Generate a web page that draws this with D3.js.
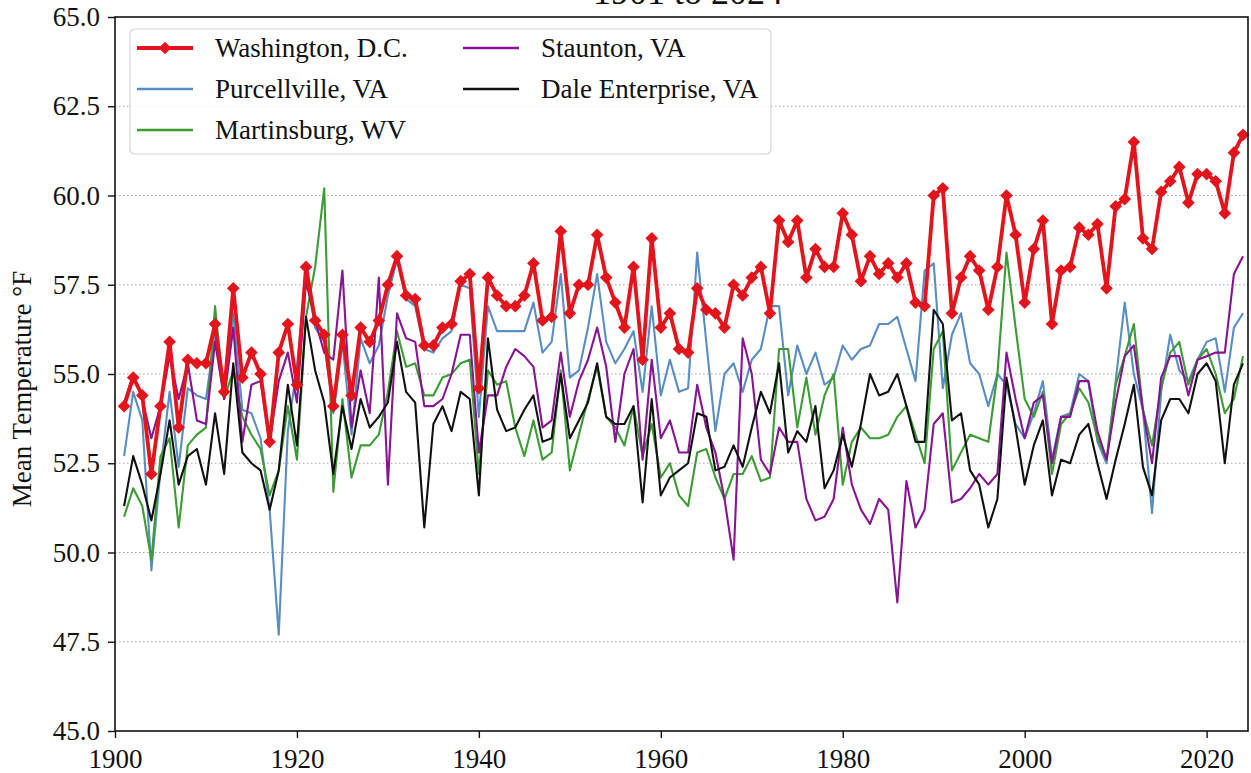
<!DOCTYPE html>
<html>
<head>
<meta charset="utf-8">
<script src="https://cdn.jsdelivr.net/npm/d3@7"></script>
<style>
  body { margin: 0; background: #fff; }
  svg text { font-family: "Liberation Serif", "DejaVu Serif", serif; fill: #111; }
</style>
</head>
<body>
<div id="chart"></div>
<script>
'use strict';

// annual mean temperature (°F), 1901 to 2024
const years = d3.range(1901, 2025);

const washington = [
  54.1, 54.9, 54.4, 52.2, 54.1, 55.9, 53.5, 55.4, 55.3, 55.3,
  56.4, 54.5, 57.4, 54.9, 55.6, 55.0, 53.1, 55.6, 56.4, 54.7,
  58.0, 56.5, 56.1, 54.1, 56.1, 54.4, 56.3, 55.9, 56.5, 57.5,
  58.3, 57.2, 57.1, 55.8, 55.8, 56.3, 56.4, 57.6, 57.8, 54.6,
  57.7, 57.2, 56.9, 56.9, 57.2, 58.1, 56.5, 56.6, 59.0, 56.7,
  57.5, 57.5, 58.9, 57.7, 57.0, 56.3, 58.0, 55.4, 58.8, 56.3,
  56.7, 55.7, 55.6, 57.4, 56.8, 56.7, 56.3, 57.5, 57.2, 57.7,
  58.0, 56.7, 59.3, 58.7, 59.3, 57.7, 58.5, 58.0, 58.0, 59.5,
  58.9, 57.6, 58.3, 57.8, 58.1, 57.7, 58.1, 57.0, 56.9, 60.0,
  60.2, 56.7, 57.7, 58.3, 57.9, 56.8, 58.0, 60.0, 58.9, 57.0,
  58.5, 59.3, 56.4, 57.9, 58.0, 59.1, 58.9, 59.2, 57.4, 59.7,
  59.9, 61.5, 58.8, 58.5, 60.1, 60.4, 60.8, 59.8, 60.6, 60.6,
  60.4, 59.5, 61.2, 61.7
];

const purcellville = [
  52.7, 54.5, 53.7, 49.5, 52.3, 54.5, 52.4, 54.6, 54.4, 54.3,
  56.1, 54.3, 56.7, 54.0, 53.9, 53.2, 51.2, 47.7, 53.4, 55.2,
  57.8, 56.3, 55.9, 53.9, 55.9, 53.3, 56.0, 55.3, 55.8, 57.2,
  58.2, 57.1, 56.9, 55.7, 55.6, 56.0, 56.2, 57.5, 57.4, 53.8,
  56.9, 56.2, 56.2, 56.2, 56.2, 57.0, 55.6, 55.9, 57.8, 54.9,
  55.1, 56.3, 57.8, 55.9, 55.3, 55.7, 56.2, 54.5, 56.9, 54.4,
  55.4, 54.5, 54.6, 58.4, 55.9, 53.4, 55.0, 55.3, 54.5, 55.4,
  55.7, 56.9, 56.9, 54.4, 55.8, 55.0, 55.6, 54.7, 54.9, 55.8,
  55.4, 55.7, 55.8, 56.4, 56.4, 56.6, 55.7, 54.8, 57.9, 58.1,
  54.6, 56.1, 56.7, 55.3, 55.0, 54.1, 55.0, 54.7, 53.6, 53.2,
  53.9, 54.8, 52.6, 53.8, 53.9, 55.0, 54.8, 53.1, 52.5, 54.8,
  57.0, 55.0, 54.0, 51.1, 54.5, 56.1, 55.1, 54.8, 55.4, 55.9,
  56.0, 54.5, 56.3, 56.7
];

const martinsburg = [
  51.0, 51.8, 51.3, 49.8, 52.7, 53.2, 50.7, 53.0, 53.3, 53.5,
  56.9, 54.3, 55.1, 53.8, 53.3, 52.9, 51.6, 52.3, 54.1, 52.6,
  56.6, 58.0, 60.2, 51.7, 54.3, 52.1, 53.0, 53.0, 53.3, 54.5,
  56.2, 55.2, 55.3, 54.4, 54.4, 54.9, 55.0, 55.3, 55.4, 52.2,
  55.1, 54.7, 54.8, 53.5, 52.7, 53.7, 52.6, 52.8, 55.1, 52.3,
  53.3, 54.3, 55.2, 53.8, 53.5, 53.0, 54.1, 52.7, 53.6, 52.1,
  52.5, 51.6, 51.3, 52.8, 52.9, 52.1, 51.5, 52.2, 52.2, 52.7,
  52.0, 52.1, 55.7, 55.7, 53.5, 54.9, 53.3, 54.4, 55.0, 51.9,
  53.1, 53.5, 53.2, 53.2, 53.3, 53.8, 54.1, 53.3, 52.5, 55.7,
  56.2, 52.3, 52.8, 53.3, 53.2, 53.1, 55.0, 58.4, 56.3, 54.3,
  53.8, 54.5, 52.2, 53.6, 53.9, 54.6, 54.2, 53.2, 52.6, 54.7,
  55.5, 56.4, 54.0, 53.0, 54.6, 55.6, 55.9, 54.7, 55.4, 55.7,
  55.0, 53.9, 54.3, 55.5
];

const staunton = [
  54.2, 55.0, 54.3, 53.2, 54.1, 55.5, 54.3, 55.3, 53.7, 53.6,
  55.9, 54.3, 56.3, 53.1, 54.7, 54.8, 53.1, 54.8, 55.6, 54.2,
  57.6, 56.5, 55.6, 55.4, 57.9, 53.5, 55.1, 53.9, 57.7, 51.9,
  56.7, 56.0, 55.9, 54.1, 54.1, 54.3, 55.0, 56.1, 56.1, 52.8,
  54.4, 54.4, 55.2, 55.7, 55.5, 55.2, 53.5, 53.7, 55.6, 53.8,
  54.8, 55.4, 56.3, 55.2, 53.1, 55.0, 55.7, 52.6, 55.4, 53.2,
  53.7, 52.8, 52.8, 54.7, 53.5, 52.8, 51.5, 49.8, 56.0, 55.0,
  52.6, 52.2, 53.5, 53.1, 53.1, 51.5, 50.9, 51.0, 51.5, 53.5,
  51.9, 51.2, 50.8, 51.5, 51.2, 48.6, 52.0, 50.7, 51.2, 53.6,
  53.9, 51.4, 51.5, 51.8, 52.2, 51.9, 52.2, 55.6, 54.3, 53.2,
  54.2, 54.4, 52.5, 53.8, 53.8, 54.8, 54.8, 53.4, 52.6, 54.2,
  55.5, 55.8, 54.0, 52.5, 54.9, 55.5, 55.5, 54.4, 55.4, 55.5,
  55.6, 55.6, 57.8, 58.3
];

const daleEnterprise = [
  51.3, 52.7, 51.9, 50.9, 52.2, 53.7, 51.9, 52.7, 52.9, 51.9,
  53.9, 52.2, 55.3, 52.8, 52.5, 52.3, 51.2, 52.3, 54.7, 53.0,
  56.6, 55.1, 54.2, 52.2, 54.1, 52.9, 54.3, 53.5, 53.8, 54.2,
  55.9, 54.5, 54.2, 50.7, 53.6, 54.1, 53.4, 54.5, 54.3, 51.6,
  56.0, 54.0, 53.4, 53.5, 54.0, 54.4, 53.1, 53.2, 55.0, 53.2,
  53.7, 54.2, 55.3, 53.8, 53.6, 53.6, 54.1, 51.4, 54.3, 51.6,
  52.1, 52.3, 52.5, 53.9, 53.8, 52.3, 52.4, 53.0, 52.4, 53.5,
  54.5, 53.9, 55.3, 52.8, 53.4, 53.1, 54.1, 51.8, 52.3, 53.3,
  52.4, 53.6, 55.0, 54.4, 54.5, 55.0, 54.1, 53.1, 53.1, 56.8,
  56.4, 53.7, 53.9, 52.3, 51.9, 50.7, 51.5, 54.9, 53.5, 51.9,
  53.0, 53.7, 51.6, 52.6, 52.5, 53.3, 53.6, 52.5, 51.5, 52.6,
  53.6, 54.7, 52.4, 51.6, 53.7, 54.3, 54.3, 53.9, 55.0, 55.3,
  54.8, 52.5, 54.7, 55.3
];

const seriesNames = ['Washington, D.C.', 'Purcellville, VA', 'Martinsburg, WV', 'Staunton, VA', 'Dale Enterprise, VA'];
const seriesColors = ['#e3141b', '#5a8dc2', '#3c9b33', '#871490', '#111111'];

const xTicks = [1900, 1920, 1940, 1960, 1980, 2000, 2020];
const yTicks = [45.0, 47.5, 50.0, 52.5, 55.0, 57.5, 60.0, 62.5, 65.0];

const titleText = '1901 to 2024';
const yLabel = 'Mean Temperature °F';

function drawChart(elementID) {
  const width = 1251;
  const height = 773;
  const left = 115;
  const right = 1248;
  const top = 17;
  const bottom = 731;
  const fontSize = 27;

  const scaleX = d3.scaleLinear()
    .domain([1900, 2024.55])
    .range([left, right]);

  const scaleY = d3.scaleLinear()
    .domain([45, 65])
    .range([bottom, top]);

  document.getElementById(elementID).innerHTML = '';
  const svg = d3.select('#' + elementID)
    .append('svg')
    .attr('width', width)
    .attr('height', height);

  svg.append('rect')
    .attr('width', width)
    .attr('height', height)
    .attr('fill', '#fff');

  // grid horizontal punteado
  svg.append('g')
    .selectAll('line')
    .data(yTicks.filter(d => d > 45 && d < 65))
    .enter()
    .append('line')
    .attr('x1', left)
    .attr('x2', right)
    .attr('y1', d => scaleY(d))
    .attr('y2', d => scaleY(d))
    .attr('stroke', '#a8a8a8')
    .attr('stroke-width', 1)
    .attr('stroke-dasharray', '1.5,2.5');

  // series
  const data = [washington, purcellville, martinsburg, staunton, daleEnterprise].map((values, i) => ({
    name: seriesNames[i],
    color: seriesColors[i],
    points: values.map((v, j) => ({ year: years[j], value: v }))
  }));

  const line = d3.line()
    .x(d => scaleX(d.year))
    .y(d => scaleY(d.value));

  const plot = svg.append('g');

  // primero las estaciones, washington encima
  const order = [1, 2, 3, 4, 0];
  order.forEach(i => {
    const s = data[i];
    plot.append('path')
      .datum(s.points)
      .attr('fill', 'none')
      .attr('stroke', s.color)
      .attr('stroke-width', i === 0 ? 3.8 : 2.1)
      .attr('stroke-linejoin', 'round')
      .attr('d', line);
  });

  const diamond = d3.symbol().type(d3.symbolSquare).size(80);

  plot.selectAll('.marker')
    .data(data[0].points)
    .enter()
    .append('path')
    .attr('class', 'marker')
    .attr('transform', d => `translate(${scaleX(d.year)}, ${scaleY(d.value)}) rotate(45)`)
    .attr('d', diamond)
    .attr('fill', seriesColors[0]);

  // eje X
  const xAxis = d3.axisBottom(scaleX)
    .tickValues(xTicks)
    .tickFormat(d3.format('d'))
    .tickSize(7)
    .tickSizeOuter(0)
    .tickPadding(11);

  const gx = svg.append('g')
    .attr('transform', `translate(0, ${bottom})`)
    .call(xAxis);
  gx.select('.domain').remove();
  gx.selectAll('line').attr('stroke', '#111').attr('stroke-width', 1.4);
  gx.selectAll('text').attr('font-size', fontSize);

  // eje Y
  const yAxis = d3.axisLeft(scaleY)
    .tickValues(yTicks)
    .tickFormat(d3.format('.1f'))
    .tickSize(7)
    .tickSizeOuter(0)
    .tickPadding(8);

  const gy = svg.append('g')
    .attr('transform', `translate(${left}, 0)`)
    .call(yAxis);
  gy.select('.domain').remove();
  gy.selectAll('line').attr('stroke', '#111').attr('stroke-width', 1.4);
  gy.selectAll('text').attr('font-size', fontSize);

  // marco
  svg.append('rect')
    .attr('x', left)
    .attr('y', top)
    .attr('width', right - left)
    .attr('height', bottom - top)
    .attr('fill', 'none')
    .attr('stroke', '#111')
    .attr('stroke-width', 1.6);

  // titulo (cortado arriba, como en el original)
  svg.append('text')
    .attr('x', 688)
    .attr('y', 4)
    .attr('text-anchor', 'middle')
    .attr('font-size', 36)
    .text(titleText);

  svg.append('text')
    .attr('transform', 'translate(31, 389) rotate(-90)')
    .attr('text-anchor', 'middle')
    .attr('font-size', fontSize)
    .text(yLabel);

  // leyenda
  const legend = svg.append('g');
  legend.append('rect')
    .attr('x', 130)
    .attr('y', 29)
    .attr('width', 641)
    .attr('height', 125)
    .attr('rx', 5)
    .attr('fill', '#fff')
    .attr('fill-opacity', 0.85)
    .attr('stroke', '#d4d4d4')
    .attr('stroke-width', 1.2);

  const colX = [137, 463];
  const rowY = [48, 89, 130];

  data.forEach((s, i) => {
    const x0 = colX[i < 3 ? 0 : 1];
    const y0 = rowY[i < 3 ? i : i - 3];
    const item = legend.append('g');
    item.append('line')
      .attr('x1', x0)
      .attr('x2', x0 + 56)
      .attr('y1', y0)
      .attr('y2', y0)
      .attr('stroke', s.color)
      .attr('stroke-width', i === 0 ? 3.8 : 2.3);
    if (i === 0) {
      item.append('path')
        .attr('transform', `translate(${x0 + 28}, ${y0}) rotate(45)`)
        .attr('d', diamond)
        .attr('fill', s.color);
    }
    item.append('text')
      .attr('x', x0 + 78)
      .attr('y', y0)
      .attr('dy', '0.33em')
      .attr('font-size', fontSize)
      .text(s.name);
  });
}

drawChart('chart');
</script>
</body>
</html>
